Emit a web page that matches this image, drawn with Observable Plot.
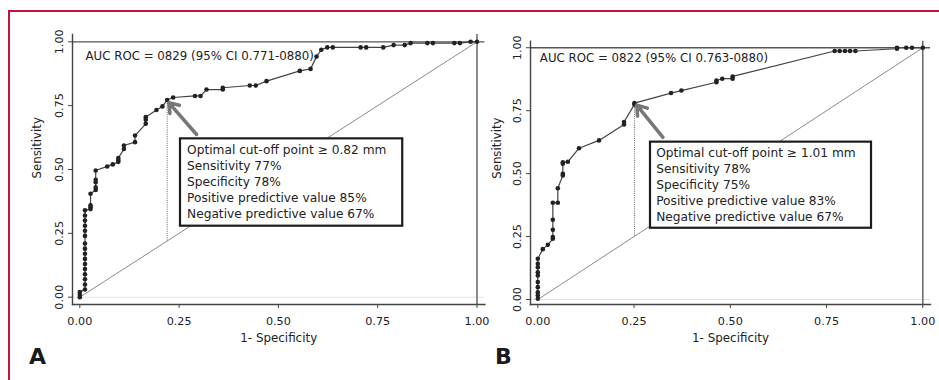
<!DOCTYPE html>
<html><head><meta charset="utf-8">
<script src="https://cdn.jsdelivr.net/npm/d3@7"></script>
<script src="https://cdn.jsdelivr.net/npm/@observablehq/plot@0.6"></script>
<style>
html,body{margin:0;padding:0;background:#fff;}
#wrap{position:relative;width:939px;height:380px;overflow:hidden;font-family:"DejaVu Sans",sans-serif;}
#wrap svg{position:absolute;left:0;top:0;}
.red{position:absolute;left:8px;top:10px;width:1000px;height:400px;border-left:2.5px solid #c4143c;border-top:2.5px solid #c4143c;}
.letter{position:absolute;font-family:"DejaVu Sans",sans-serif;font-weight:700;font-size:22px;line-height:22px;color:#1a1a1a;}
</style></head><body>
<div id="wrap"><div class="red"></div></div>
<script>
// ---- data ----
const tickValues = [0, 0.25, 0.5, 0.75, 1];
const xTitle = "1- Specificity";
const yTitle = "Sensitivity";

// Panel A ROC points (1-specificity, sensitivity)
const fprA = [0,0,0,
  0.013,0.013,0.013,0.013,0.013,0.013,0.013,0.013,0.013,0.013,0.013,0.013,0.013,0.013,0.013,0.013,
  0.027,0.027,0.027,0.027, 0.04,0.04,0.04,0.04,0.04,
  0.069,0.083,0.097,0.097,0.097,0.111,0.111,0.139,0.139,0.166,0.166,0.166,0.193,0.208,0.22,0.235,
  0.29,0.304,0.319,0.36,0.36,0.428,0.443,0.47,0.554,0.581,0.596,0.608,0.623,0.637,0.707,0.721,0.764,0.79,0.818,0.833,0.875,0.889,0.943,0.957,0.984,1.0];
const tprA = [0,0.01,0.02,
  0.03,0.05,0.07,0.09,0.11,0.13,0.15,0.17,0.19,0.21,0.24,0.26,0.28,0.30,0.32,0.34,
  0.345,0.352,0.36,0.405, 0.42,0.43,0.45,0.46,0.496,
  0.512,0.52,0.53,0.537,0.545,0.58,0.594,0.607,0.633,0.679,0.695,0.705,0.733,0.747,0.772,0.782,
  0.788,0.788,0.813,0.813,0.82,0.829,0.829,0.846,0.886,0.894,0.942,0.969,0.978,0.978,0.978,0.978,0.978,0.987,0.987,0.995,0.995,0.995,0.995,0.995,1.0,1.0];

// Panel B ROC points
const fprB = [0,0,0,0,0,0,0,0,0,0, 0.013, 0.026, 0.039,0.039,0.039,0.039,0.039, 0.052,0.052,
  0.065,0.065,0.065,0.065, 0.078, 0.107, 0.159, 0.224,0.224, 0.251,0.251, 0.346, 0.373,
  0.464,0.464, 0.479, 0.506,0.506, 0.771,0.784,0.798,0.811,0.825, 0.933,0.933, 0.957,0.972, 1.0];
const tprB = [0.003,0.016,0.029,0.049,0.069,0.095,0.108,0.128,0.142,0.162, 0.2, 0.217, 0.241,0.248,0.277,0.317,0.384, 0.384,0.442,
  0.493,0.499,0.539,0.545, 0.547, 0.601, 0.632, 0.695,0.705, 0.775,0.78, 0.82, 0.83,
  0.863,0.87, 0.877, 0.877,0.886, 0.987,0.987,0.987,0.987,0.987, 0.996,1.0, 1.0,1.0, 1.0];

// chance diagonal
const diagX = [0, 1];
const diagY = [0, 1];

// annotations
const aucTextA = "AUC ROC = 0829 (95% CI 0.771-0880)";
const aucTextB = "AUC ROC = 0822 (95% CI 0.763-0880)";
const boxLinesA = ["Optimal cut-off point \u2265 0.82 mm","Sensitivity 77%","Specificity 78%","Positive predictive value 85%","Negative predictive value 67%"];
const boxLinesB = ["Optimal cut-off point \u2265 1.01 mm","Sensitivity 78%","Specificity 75%","Positive predictive value 83%","Negative predictive value 67%"];
const cutoffA = [0.22, 0.772];   // optimal point (fpr, tpr)
const cutoffB = [0.251, 0.777];
const aucPosA = [0.0144, 0.944];
const aucPosB = [0.0052, 0.960];
const boxA = [0.2535, 0.813, 0.278, 0.62];  // x1, x2, y1, y2
const boxB = [0.2927, 0.8668, 0.283, 0.625];
const boxTextPosA = [0.27, 0.456];
const boxTextPosB = [0.3075, 0.458];
const arrowA = [0.294, 0.637, 0.224, 0.762]; // tail x,y -> tip x,y
const arrowB = [0.325, 0.644, 0.257, 0.772];

function panel(c) {
  const roc = c.fpr.map((f, i) => ({f, t: c.tpr[i]}));
  const diag = diagX.map((d, i) => ({x: d, y: diagY[i]}));
  return Plot.plot({
    width: 939, height: 380,
    marginLeft: c.m[0], marginRight: c.m[1], marginTop: c.m[2], marginBottom: c.m[3],
    style: {background: "transparent", fontFamily: "DejaVu Sans", fontSize: "11.2px", color: "#222", overflow: "visible"},
    x: {domain: c.xd},
    y: {domain: c.yd},
    marks: [
      Plot.ruleY([0], {stroke: "#e4e4e4", strokeWidth: 1}),
      Plot.line(diag, {x: "x", y: "y", stroke: "#8a8a8a", strokeWidth: 1}),
      Plot.ruleY([1], {stroke: "#555", strokeWidth: 1.3}),
      Plot.ruleX([1], {stroke: "#666", strokeWidth: 1.5}),
      Plot.ruleX([c.cut], {x: d => d[0], y1: d => d[0], y2: d => d[1], stroke: "#666", strokeWidth: 1, strokeDasharray: "1,1.2"}),
      Plot.line(roc, {x: "f", y: "t", stroke: "#444", strokeWidth: 1.2}),
      Plot.dot(roc, {x: "f", y: "t", r: 2.3, fill: "#222", stroke: null}),
      Plot.text([c.auc], {x: c.aucPos[0], y: c.aucPos[1], text: d => d, textAnchor: "start", lineAnchor: "middle", fontSize: 11.8, fill: "#222"}),
      Plot.rect([c.box], {x1: d => d[0], x2: d => d[1], y1: d => d[2], y2: d => d[3], fill: "white", stroke: "#1c1c1c", strokeWidth: 2.2}),
      Plot.text([c.lines.join("\n")], {x: c.boxPos[0], y: c.boxPos[1], text: d => d, textAnchor: "start", lineAnchor: "middle", lineHeight: 1.311, fontSize: 12.2, fill: "#222"}),
      Plot.arrow([c.arrow], {x1: d => d[0], y1: d => d[1], x2: d => d[2], y2: d => d[3], stroke: "#777", strokeWidth: 3.5, headLength: 4.7, headAngle: 70}),
      Plot.frame({anchor: "left", stroke: "#444", strokeWidth: 1.4}),
      Plot.frame({anchor: "bottom", stroke: "#444", strokeWidth: 1.4}),
      Plot.axisX({ticks: tickValues, tickFormat: d3.format(".2f"), tickSize: 4, tickPadding: 9, stroke: "#444",
        label: null, fontSize: 11.2}),
      Plot.axisX({ticks: [], label: xTitle, labelAnchor: "center", labelArrow: "none", labelOffset: 37.5, fontSize: 11.9}),
      Plot.axisY({ticks: tickValues, tickFormat: d3.format(".2f"), tickSize: 4, tickPadding: 6, tickRotate: -90, stroke: "#444",
        label: null, fontSize: 11.2}),
      Plot.text([yTitle], {frameAnchor: "left", text: d => d, rotate: -90, dx: c.ylab[0], dy: c.ylab[1], fontSize: 11.8, fill: "#222"})
    ]
  });
}

const wrap = document.getElementById("wrap");
wrap.appendChild(panel({
  fpr: fprA, tpr: tprA, m: [72, 454.6, 34, 76], xd: [-0.0184, 1.0199], yd: [-0.0286, 1.0286],
  cut: cutoffA, auc: aucTextA, aucPos: aucPosA, box: boxA, lines: boxLinesA, boxPos: boxTextPosA, arrow: arrowA,
  ylab: [-35.3, 9]
}));
wrap.appendChild(panel({
  fpr: fprB, tpr: tprB, m: [530, 9, 40.7, 76], xd: [-0.019, 1.02], yd: [-0.0199, 1.026],
  cut: cutoffB, auc: aucTextB, aucPos: aucPosB, box: boxB, lines: boxLinesB, boxPos: boxTextPosB, arrow: arrowB,
  ylab: [-33.5, 6]
}));
for (const [t, l] of [["A", 29], ["B", 495]]) {
  const d = document.createElement("div");
  d.className = "letter"; d.textContent = t;
  d.style.left = l + "px"; d.style.top = "346.4px";
  wrap.appendChild(d);
}
</script>
</body></html>
